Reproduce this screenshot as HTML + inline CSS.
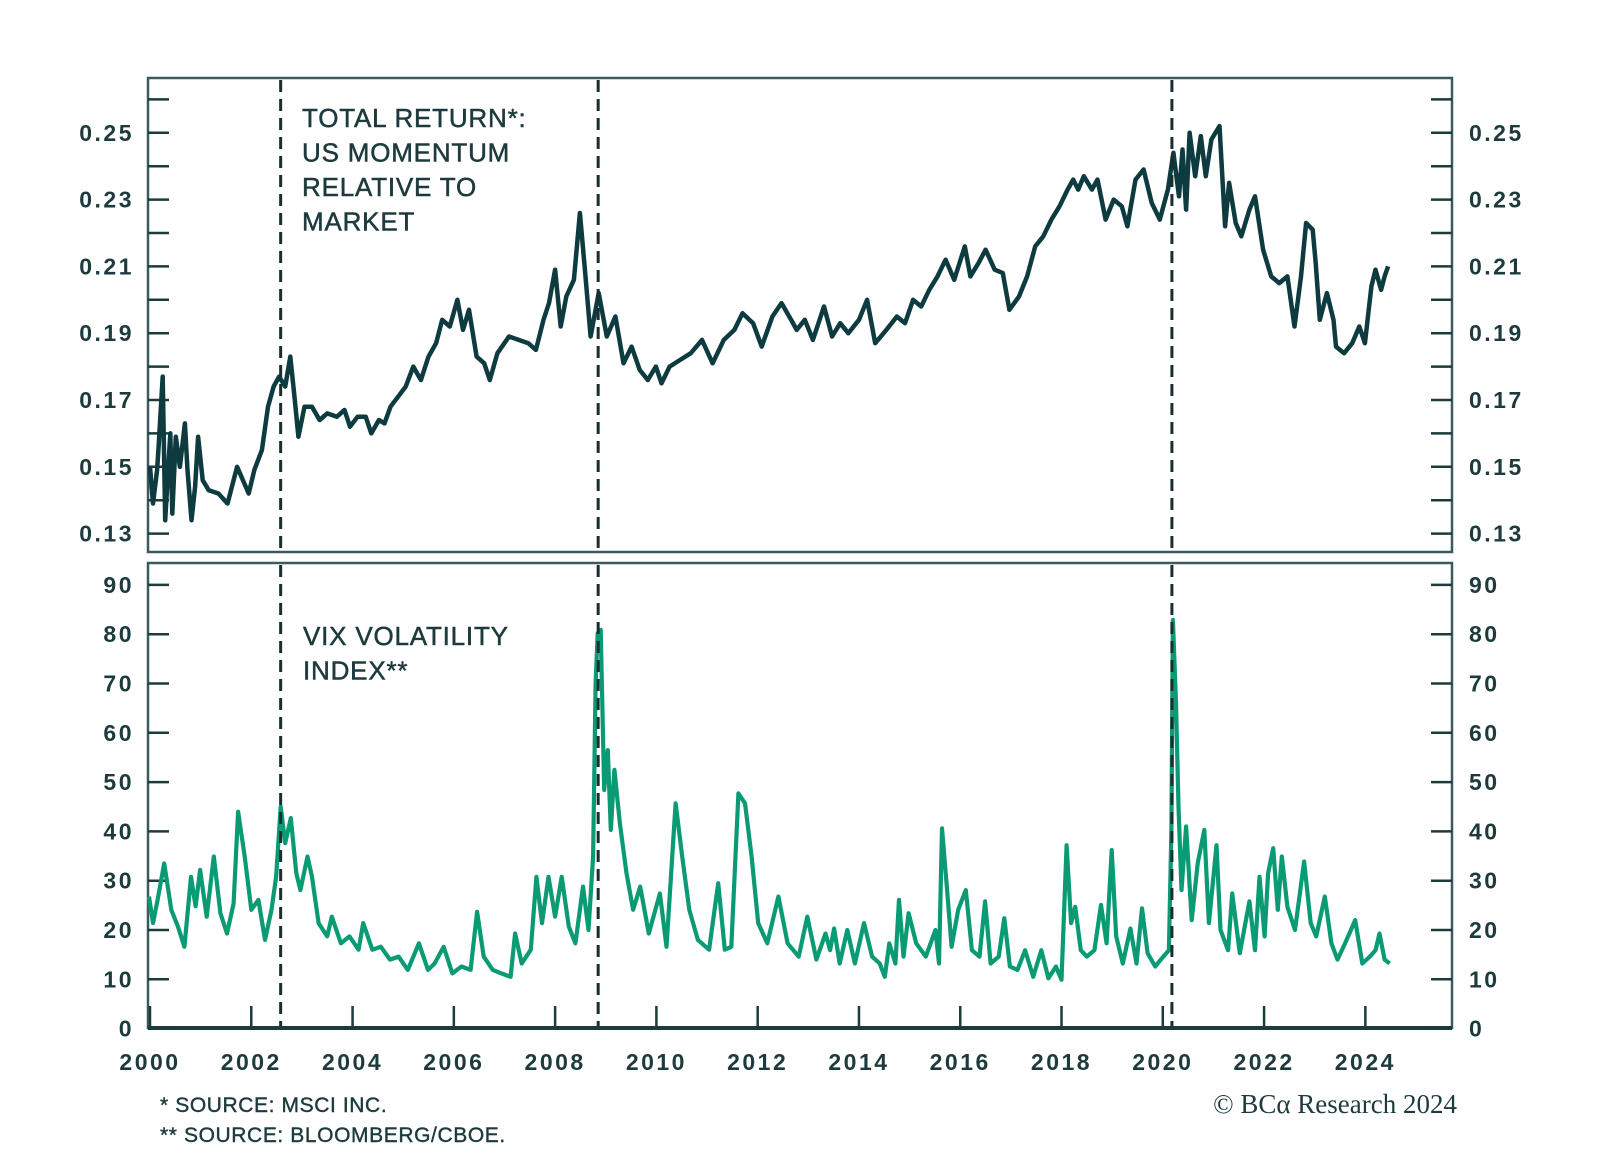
<!DOCTYPE html>
<html><head><meta charset="utf-8"><style>
html,body{margin:0;padding:0;background:#fff;}
svg{display:block;}
text{font-family:"Liberation Sans",sans-serif;fill:#1d3a3d;}
.tk{font-size:23px;font-weight:bold;letter-spacing:2.5px;}
.lbl{font-size:26px;letter-spacing:0.8px;stroke:#1d3a3d;stroke-width:0.5px;}
.foot{font-size:21px;letter-spacing:0.6px;stroke:#1d3a3d;stroke-width:0.4px;}
</style></head><body>
<svg id="chart" width="1600" height="1160" viewBox="0 0 1600 1160"></svg>
<script>
const momYears=[2000.0,2000.06,2000.14,2000.17,2000.25,2000.3,2000.4,2000.44,2000.51,2000.59,2000.69,2000.74,2000.82,2000.89,2000.95,2001.04,2001.16,2001.35,2001.53,2001.72,2001.95,2002.06,2002.21,2002.33,2002.44,2002.55,2002.67,2002.77,2002.86,2002.93,2003.05,2003.2,2003.35,2003.5,2003.69,2003.84,2003.95,2004.1,2004.26,2004.37,2004.52,2004.63,2004.75,2004.9,2005.05,2005.2,2005.35,2005.5,2005.65,2005.77,2005.92,2006.07,2006.18,2006.3,2006.45,2006.6,2006.71,2006.86,2007.09,2007.28,2007.47,2007.62,2007.77,2007.88,2008.0,2008.11,2008.22,2008.37,2008.49,2008.6,2008.7,2008.86,2009.02,2009.19,2009.35,2009.51,2009.67,2009.83,2009.99,2010.1,2010.26,2010.47,2010.68,2010.9,2011.11,2011.33,2011.54,2011.7,2011.91,2012.08,2012.29,2012.47,2012.66,2012.77,2012.93,2013.09,2013.31,2013.47,2013.63,2013.79,2014.0,2014.16,2014.32,2014.54,2014.75,2014.91,2015.07,2015.23,2015.39,2015.55,2015.71,2015.88,2016.09,2016.2,2016.36,2016.5,2016.68,2016.84,2016.97,2017.16,2017.32,2017.48,2017.64,2017.8,2017.96,2018.12,2018.23,2018.33,2018.44,2018.6,2018.71,2018.87,2019.03,2019.19,2019.3,2019.46,2019.62,2019.78,2019.94,2020.1,2020.21,2020.32,2020.39,2020.46,2020.53,2020.64,2020.75,2020.85,2020.96,2021.12,2021.23,2021.31,2021.44,2021.55,2021.71,2021.82,2021.98,2022.14,2022.3,2022.46,2022.6,2022.73,2022.83,2022.96,2023.02,2023.1,2023.24,2023.37,2023.42,2023.58,2023.74,2023.88,2023.99,2024.12,2024.2,2024.31,2024.38,2024.45];
const momValues=[0.150,0.139,0.149,0.156,0.177,0.134,0.160,0.136,0.159,0.150,0.163,0.149,0.134,0.144,0.159,0.146,0.143,0.142,0.139,0.150,0.142,0.149,0.155,0.168,0.174,0.177,0.174,0.183,0.170,0.159,0.168,0.168,0.164,0.166,0.165,0.167,0.162,0.165,0.165,0.160,0.164,0.163,0.168,0.171,0.174,0.180,0.176,0.183,0.187,0.194,0.192,0.200,0.191,0.197,0.183,0.181,0.176,0.184,0.189,0.188,0.187,0.185,0.194,0.199,0.209,0.192,0.201,0.206,0.226,0.207,0.189,0.202,0.189,0.195,0.181,0.186,0.179,0.176,0.180,0.175,0.180,0.182,0.184,0.188,0.181,0.188,0.191,0.196,0.193,0.186,0.195,0.199,0.194,0.191,0.194,0.188,0.198,0.189,0.193,0.190,0.194,0.200,0.187,0.191,0.195,0.193,0.200,0.198,0.203,0.207,0.212,0.206,0.216,0.207,0.211,0.215,0.209,0.208,0.197,0.201,0.207,0.216,0.219,0.224,0.228,0.233,0.236,0.233,0.237,0.233,0.236,0.224,0.230,0.228,0.222,0.236,0.239,0.229,0.224,0.233,0.244,0.231,0.245,0.227,0.250,0.237,0.249,0.237,0.248,0.252,0.222,0.235,0.223,0.219,0.227,0.231,0.215,0.207,0.205,0.207,0.192,0.207,0.223,0.221,0.211,0.194,0.202,0.194,0.186,0.184,0.187,0.192,0.187,0.204,0.209,0.203,0.207,0.210];
const vixYears=[1999.98,2000.06,2000.15,2000.28,2000.42,2000.55,2000.68,2000.81,2000.9,2000.99,2001.12,2001.26,2001.39,2001.52,2001.65,2001.74,2001.87,2002.0,2002.14,2002.27,2002.4,2002.49,2002.58,2002.67,2002.78,2002.89,2002.97,2003.11,2003.2,2003.33,2003.5,2003.59,2003.77,2003.94,2004.12,2004.21,2004.39,2004.56,2004.74,2004.91,2005.09,2005.31,2005.49,2005.62,2005.8,2005.97,2006.15,2006.33,2006.46,2006.59,2006.77,2006.94,2007.12,2007.21,2007.34,2007.52,2007.63,2007.74,2007.87,2008.0,2008.13,2008.27,2008.4,2008.55,2008.66,2008.75,2008.8,2008.84,2008.9,2008.97,2009.04,2009.1,2009.17,2009.28,2009.41,2009.54,2009.68,2009.85,2010.07,2010.2,2010.38,2010.51,2010.65,2010.82,2011.04,2011.22,2011.35,2011.48,2011.62,2011.75,2011.88,2012.01,2012.19,2012.41,2012.59,2012.81,2012.98,2013.16,2013.34,2013.43,2013.51,2013.62,2013.77,2013.92,2014.1,2014.26,2014.41,2014.51,2014.6,2014.72,2014.79,2014.88,2014.98,2015.13,2015.32,2015.51,2015.58,2015.64,2015.74,2015.83,2015.96,2016.11,2016.23,2016.38,2016.49,2016.6,2016.76,2016.87,2016.98,2017.13,2017.28,2017.44,2017.6,2017.74,2017.89,2018.0,2018.1,2018.19,2018.27,2018.38,2018.5,2018.65,2018.78,2018.89,2018.99,2019.08,2019.21,2019.36,2019.48,2019.59,2019.7,2019.85,2020.01,2020.12,2020.17,2020.2,2020.26,2020.31,2020.37,2020.46,2020.57,2020.69,2020.82,2020.91,2021.06,2021.14,2021.29,2021.37,2021.52,2021.71,2021.82,2021.91,2022.01,2022.08,2022.18,2022.27,2022.35,2022.46,2022.61,2022.79,2022.92,2023.03,2023.2,2023.33,2023.45,2023.6,2023.8,2023.94,2024.09,2024.2,2024.28,2024.38,2024.48];
const vixValues=[26.8,21.4,26.1,33.5,24.1,20.7,16.6,30.8,24.8,32.2,22.7,34.9,23.4,19.3,25.4,44.0,34.9,24.1,26.1,18.0,24.1,30.8,45.0,37.6,42.7,31.5,28.1,34.9,30.8,21.4,18.7,22.7,17.3,18.7,16.0,21.4,16.0,16.6,14.0,14.6,11.9,17.3,11.9,13.2,16.6,11.2,12.6,11.9,23.7,14.6,11.9,11.2,10.5,19.3,13.2,16.0,30.8,21.4,30.8,22.7,30.8,20.7,17.3,28.8,20.0,34.9,70.0,80.2,80.9,48.4,56.5,40.3,52.5,41.6,31.5,24.1,28.8,19.3,27.4,16.6,45.7,34.9,24.1,18.0,16.0,29.5,16.0,16.6,47.7,45.7,34.9,21.4,17.3,26.8,17.3,14.6,22.7,14.0,19.3,15.9,20.3,13.2,20.0,13.2,21.4,14.6,13.2,10.5,17.3,13.2,26.1,14.6,23.4,17.3,14.6,20.0,13.2,40.6,28.1,16.6,24.1,28.1,15.9,14.6,25.8,13.2,14.6,22.4,12.6,11.9,15.9,10.5,15.9,10.2,12.6,9.9,37.2,21.4,24.7,15.9,14.6,15.9,25.1,17.3,36.2,18.7,13.2,20.3,13.2,24.4,15.3,12.6,14.6,15.9,40.3,82.9,66.0,45.0,28.1,41.0,22.0,33.5,40.3,21.4,37.2,20.0,15.9,27.4,15.3,25.8,15.9,30.8,18.7,31.5,36.6,24.1,34.9,24.7,20.0,33.9,21.4,18.7,26.8,17.3,14.0,17.3,22.0,13.2,14.6,15.9,19.3,14.0,13.2];
const recessionYears=[2002.58,2008.85,2020.18];
const yearTicks=[2000,2002,2004,2006,2008,2010,2012,2014,2016,2018,2020,2022,2024];
const momTicks=[0.13,0.15,0.17,0.19,0.21,0.23,0.25];
const vixTicks=[0,10,20,30,40,50,60,70,80,90];

const NS='http://www.w3.org/2000/svg';
const svg=document.getElementById('chart');
const L=148,R=1452;
const T1=78,B1=552,T2=563,B2=1028;
function xS(y){return 150+(y-2000)*50.64;}
function yTop(v){return 533.6-(v-0.13)*3340;}
function yBot(v){return 1028.6-v*4.93;}
function mk(tag,attrs,parent){const e=document.createElementNS(NS,tag);for(const k in attrs)e.setAttribute(k,attrs[k]);(parent||svg).appendChild(e);return e;}

const f1=mk('rect',{x:L,y:T1,width:R-L,height:B1-T1,fill:'none',stroke:'#3a5a5e','stroke-width':2.5});


const f2=mk('rect',{x:L,y:T2,width:R-L,height:B2-T2,fill:'none',stroke:'#3a5a5e','stroke-width':2.5});


const ax=mk('line',{x1:L,x2:R,y1:B2,y2:B2,stroke:'#1d3a3d','stroke-width':4});



for(let i=13;i<=26;i++){
  const y=yTop(i/100);
  const a=mk('line',{x1:L,x2:L+21,y1:y,y2:y,stroke:'#1d3a3d','stroke-width':2.5});
  
  
  const b=mk('line',{x1:R-21,x2:R,y1:y,y2:y,stroke:'#1d3a3d','stroke-width':2.5});
  
  
}
momTicks.forEach(v=>{
  const y=yTop(v)+8;
  const a=mk('text',{x:134,y:y,'text-anchor':'end',class:'tk'});a.textContent=v.toFixed(2);
  
  
  const b=mk('text',{x:1469,y:y,class:'tk'});b.textContent=v.toFixed(2);
  
  
});
vixTicks.forEach(v=>{
  const y=yBot(v);
  const a=mk('line',{x1:L,x2:L+21,y1:y,y2:y,stroke:'#1d3a3d','stroke-width':2.5});
  
  
  const b=mk('line',{x1:R-21,x2:R,y1:y,y2:y,stroke:'#1d3a3d','stroke-width':2.5});
  
  
  const t=mk('text',{x:134,y:y+8,'text-anchor':'end',class:'tk'});t.textContent=v;
  
  
  const u=mk('text',{x:1469,y:y+8,class:'tk'});u.textContent=v;
  
  
});
yearTicks.forEach(yr=>{
  const x=xS(yr);
  const a=mk('line',{x1:x,x2:x,y1:B2,y2:B2-22,stroke:'#1d3a3d','stroke-width':2.5});
  
  
  const t=mk('text',{x:x,y:1070,'text-anchor':'middle',class:'tk'});t.textContent=yr;
  
  
});

function path(xs,vs,yf){return xs.map((x,i)=>(i?'L':'M')+xS(x).toFixed(1)+' '+yf(vs[i]).toFixed(1)).join(' ');}
const vl=mk('path',{d:path(vixYears,vixValues,yBot),fill:'none',stroke:'#0b9b74','stroke-width':4.2,'stroke-linejoin':'round'});


const ml=mk('path',{d:path(momYears,momValues,yTop),fill:'none',stroke:'#0e3b40','stroke-width':4.5,'stroke-linejoin':'round'});



recessionYears.forEach(yr=>{
  const x=xS(yr);
  const a=mk('line',{x1:x,x2:x,y1:T1+2,y2:B1-2,stroke:'#1a2e30','stroke-width':3,'stroke-dasharray':'12 7'});
  
  
  const b=mk('line',{x1:x,x2:x,y1:T2+2,y2:B2-2,stroke:'#1a2e30','stroke-width':3,'stroke-dasharray':'12 7'});
  
  
});

const t1=['TOTAL RETURN*:','US MOMENTUM','RELATIVE TO','MARKET'];
t1.forEach((s,i)=>{const t=mk('text',{x:302,y:127+i*34.5,class:'lbl'});t.textContent=s;
  
  });
['VIX VOLATILITY','INDEX**'].forEach((s,i)=>{const t=mk('text',{x:303,y:645+i*34.5,class:'lbl'});t.textContent=s;
  
  });
const n1=mk('text',{x:160,y:1112,class:'foot'});n1.textContent='* SOURCE: MSCI INC.';


const n2=mk('text',{x:160,y:1142,class:'foot'});n2.textContent='** SOURCE: BLOOMBERG/CBOE.';


const c=mk('text',{x:1457,y:1113,'text-anchor':'end',style:'font-family:"Liberation Serif",serif;font-size:27px;'});c.textContent='© BCα Research 2024';


</script>
</body></html>
